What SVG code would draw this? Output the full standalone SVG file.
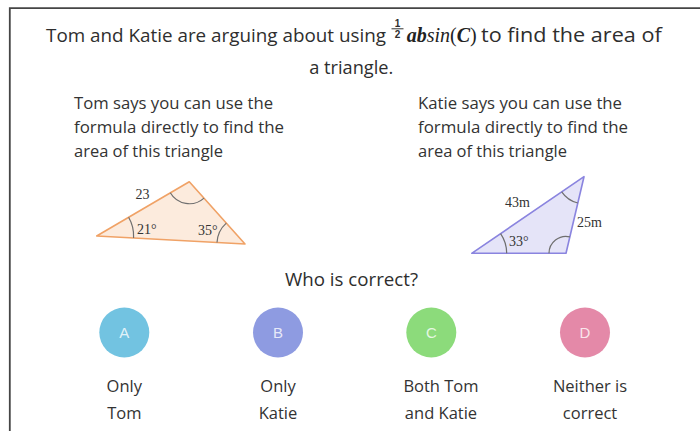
<svg xmlns="http://www.w3.org/2000/svg" width="700" height="431" viewBox="0 0 700 431">
<style>
.t{font-family:"Open Sans","Liberation Sans",sans-serif;fill:#2e2e2e}
.title{font-size:18.6px}
.body{font-size:16px;fill:#333}
.opt{font-size:16.5px;fill:#333;text-anchor:middle}
.m{font-family:"Liberation Serif","DejaVu Serif",serif;font-size:20px;fill:#222}
.frac{font-family:"Liberation Sans",sans-serif;font-size:10px;font-weight:bold;fill:#2e2e2e;text-anchor:middle}
.lbl{font-family:"Liberation Serif","DejaVu Serif",serif;font-size:14px;fill:#333}
.arc{fill:none;stroke:#6f6f6f;stroke-width:1.2}
.letter{font-family:"Liberation Sans","Open Sans",sans-serif;font-size:15px;fill:#fff;fill-opacity:0.8;text-anchor:middle}
</style>
<rect width="700" height="431" fill="#fff"/>
<path d="M9.8 431 V8.2 H700" fill="none" stroke="#454545" stroke-width="1.8"/>

<g id="title">
  <text class="t title" x="46" y="42.3" textLength="340" lengthAdjust="spacingAndGlyphs">Tom and Katie are arguing about using</text>
  <text class="frac" x="397.5" y="26.6">1</text>
  <line x1="391.5" y1="28.8" x2="403.5" y2="28.8" stroke="#333" stroke-width="1"/>
  <text class="frac" x="397.5" y="38.2">2</text>
  <text class="m" x="406.7" y="42.3"><tspan font-weight="bold" font-style="italic">ab</tspan><tspan font-style="italic">sin</tspan>(<tspan font-weight="bold" font-style="italic">C</tspan>)</text>
  <text class="t" font-size="19.6" x="481" y="42.3" textLength="180.7" lengthAdjust="spacingAndGlyphs">to find the area of</text>
  <text class="t" font-size="19" x="309.3" y="74.3" textLength="84" lengthAdjust="spacingAndGlyphs">a triangle.</text>
</g>

<g id="tom-text">
  <text class="t body" x="74" y="109" textLength="199" lengthAdjust="spacingAndGlyphs">Tom says you can use the</text>
  <text class="t body" x="74" y="133" textLength="210" lengthAdjust="spacingAndGlyphs">formula directly to find the</text>
  <text class="t body" x="74" y="157" textLength="149" lengthAdjust="spacingAndGlyphs">area of this triangle</text>
</g>

<g id="katie-text">
  <text class="t body" x="418" y="109" textLength="204" lengthAdjust="spacingAndGlyphs">Katie says you can use the</text>
  <text class="t body" x="418" y="133" textLength="210" lengthAdjust="spacingAndGlyphs">formula directly to find the</text>
  <text class="t body" x="418" y="157" textLength="149" lengthAdjust="spacingAndGlyphs">area of this triangle</text>
</g>

<g id="triangle-tom">
  <polygon points="96.7,236 189.3,181.7 245,244" fill="#fcebdd" stroke="#f0a266" stroke-width="1.6" stroke-linejoin="round"/>
  <path class="arc" d="M133.6 238 A37 37 0 0 0 128.6 217.3"/>
  <path class="arc" d="M170.3 192.8 A22 22 0 0 0 204 198.1"/>
  <path class="arc" d="M217 242.5 A28 28 0 0 1 226.3 223.1"/>
  <text class="lbl" x="135.5" y="199.3">23</text>
  <text class="lbl" x="137" y="234">21°</text>
  <text class="lbl" x="198" y="235">35°</text>
</g>

<g id="triangle-katie">
  <polygon points="471.7,253.3 584,176.7 566,253.3" fill="#e5e4f8" stroke="#8a84df" stroke-width="1.6" stroke-linejoin="round"/>
  <path class="arc" d="M506.7 253.3 A35 35 0 0 0 500.6 233.6"/>
  <path class="arc" d="M561.7 191.9 A27 27 0 0 0 577.8 203"/>
  <path class="arc" d="M549 253.3 A17 17 0 0 1 569.9 236.8"/>
  <text class="lbl" x="505" y="206.7">43m</text>
  <text class="lbl" x="577" y="226.7">25m</text>
  <text class="lbl" x="509" y="246">33°</text>
</g>

<g id="question">
  <text class="t" x="351.5" y="286" font-size="18.5" text-anchor="middle" textLength="133" lengthAdjust="spacingAndGlyphs">Who is correct?</text>
</g>

<g id="option-a">
  <circle cx="124.3" cy="332.5" r="25" fill="#72c3e1"/>
  <text class="letter" x="124.3" y="338">A</text>
  <text class="t opt" x="124.3" y="391.7">Only</text>
  <text class="t opt" x="124.3" y="418.5">Tom</text>
</g>
<g id="option-b">
  <circle cx="278" cy="332.5" r="25" fill="#8e9be1"/>
  <text class="letter" x="278" y="338">B</text>
  <text class="t opt" x="278" y="391.7">Only</text>
  <text class="t opt" x="278" y="418.5">Katie</text>
</g>
<g id="option-c">
  <circle cx="431.3" cy="332.5" r="25" fill="#8cdb7b"/>
  <text class="letter" x="431.3" y="338">C</text>
  <text class="t opt" x="441" y="391.7">Both Tom</text>
  <text class="t opt" x="441" y="418.5">and Katie</text>
</g>
<g id="option-d">
  <circle cx="585" cy="332.5" r="25" fill="#e489a8"/>
  <text class="letter" x="585" y="338">D</text>
  <text class="t opt" x="590" y="391.7">Neither is</text>
  <text class="t opt" x="590" y="418.5">correct</text>
</g>
</svg>
